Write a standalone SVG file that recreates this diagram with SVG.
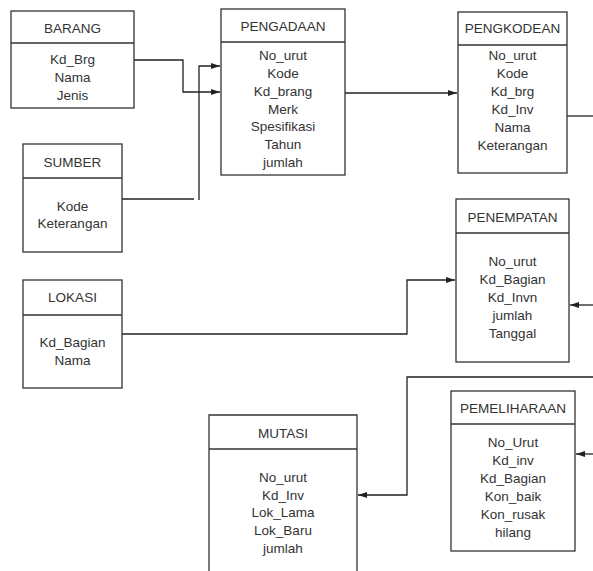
<svg xmlns="http://www.w3.org/2000/svg" width="593" height="571" viewBox="0 0 593 571">
  <style>
    .box { fill: #ffffff; stroke: #333333; stroke-width: 1.3; }
    .div { stroke: #333333; stroke-width: 1.3; fill: none; }
    .t { font-family: "Liberation Sans", Arial, sans-serif; font-size: 13.5px; fill: #333333; text-anchor: middle; }
    .conn { fill: none; stroke: #222222; stroke-width: 1.3; }
  </style>
  <defs>
    <marker id="arrow" markerUnits="userSpaceOnUse" markerWidth="10" markerHeight="8" refX="9" refY="4" orient="auto">
      <path d="M0,1 L9,4 L0,7 Z" fill="#222222"/>
    </marker>
  </defs>
  <rect width="593" height="571" fill="#ffffff"/>

  <g id="connectors">
    <path class="conn" d="M134,60 H183 V92 H220" marker-end="url(#arrow)"/>
    <path class="conn" d="M122,199 H194"/>
    <path class="conn" d="M199,200 V66 H220" marker-end="url(#arrow)"/>
    <path class="conn" d="M345,93 H457" marker-end="url(#arrow)"/>
    <path class="conn" d="M567,116 H593"/>
    <path class="conn" d="M122,334 H407 V280 H455" marker-end="url(#arrow)"/>
    <path class="conn" d="M593,305 H570" marker-end="url(#arrow)"/>
    <path class="conn" d="M593,377 H407 V495 H358" marker-end="url(#arrow)"/>
    <path class="conn" d="M593,454 H576" marker-end="url(#arrow)"/>
  </g>

  <g id="barang">
    <rect class="box" x="11" y="11" width="123" height="97"/>
    <line class="div" x1="11" y1="43" x2="134" y2="43"/>
    <text class="t" x="72.5" y="33">BARANG</text>
    <text class="t" x="72.5" y="64">Kd_Brg</text>
    <text class="t" x="72.5" y="82">Nama</text>
    <text class="t" x="72.5" y="100">Jenis</text>
  </g>

  <g id="pengadaan">
    <rect class="box" x="221" y="9" width="124" height="166"/>
    <line class="div" x1="221" y1="42" x2="345" y2="42"/>
    <text class="t" x="283" y="31">PENGADAAN</text>
    <text class="t" x="283" y="60">No_urut</text>
    <text class="t" x="283" y="78">Kode</text>
    <text class="t" x="283" y="96">Kd_brang</text>
    <text class="t" x="283" y="113.5">Merk</text>
    <text class="t" x="283" y="131">Spesifikasi</text>
    <text class="t" x="283" y="149">Tahun</text>
    <text class="t" x="283" y="167">jumlah</text>
  </g>

  <g id="pengkodean">
    <rect class="box" x="458" y="12" width="109" height="161"/>
    <line class="div" x1="458" y1="45" x2="567" y2="45"/>
    <text class="t" x="512.5" y="33">PENGKODEAN</text>
    <text class="t" x="512.5" y="60">No_urut</text>
    <text class="t" x="512.5" y="78">Kode</text>
    <text class="t" x="512.5" y="96">Kd_brg</text>
    <text class="t" x="512.5" y="114">Kd_Inv</text>
    <text class="t" x="512.5" y="132">Nama</text>
    <text class="t" x="512.5" y="150">Keterangan</text>
  </g>

  <g id="sumber">
    <rect class="box" x="23" y="144" width="99" height="108"/>
    <line class="div" x1="23" y1="178" x2="122" y2="178"/>
    <text class="t" x="72.5" y="167">SUMBER</text>
    <text class="t" x="72.5" y="211">Kode</text>
    <text class="t" x="72.5" y="228">Keterangan</text>
  </g>

  <g id="lokasi">
    <rect class="box" x="23" y="280" width="99" height="108"/>
    <line class="div" x1="23" y1="315" x2="122" y2="315"/>
    <text class="t" x="72.5" y="302">LOKASI</text>
    <text class="t" x="72.5" y="347">Kd_Bagian</text>
    <text class="t" x="72.5" y="365">Nama</text>
  </g>

  <g id="penempatan">
    <rect class="box" x="456" y="199" width="113" height="163"/>
    <line class="div" x1="456" y1="233" x2="569" y2="233"/>
    <text class="t" x="512.5" y="222">PENEMPATAN</text>
    <text class="t" x="512.5" y="266">No_urut</text>
    <text class="t" x="512.5" y="284">Kd_Bagian</text>
    <text class="t" x="512.5" y="302">Kd_Invn</text>
    <text class="t" x="512.5" y="320">jumlah</text>
    <text class="t" x="512.5" y="338">Tanggal</text>
  </g>

  <g id="mutasi">
    <path class="box" d="M209,572 V415 H357 V572"/>
    <line class="div" x1="209" y1="449" x2="357" y2="449"/>
    <text class="t" x="283" y="438">MUTASI</text>
    <text class="t" x="283" y="482">No_urut</text>
    <text class="t" x="283" y="499.5">Kd_Inv</text>
    <text class="t" x="283" y="517">Lok_Lama</text>
    <text class="t" x="283" y="535">Lok_Baru</text>
    <text class="t" x="283" y="553">jumlah</text>
  </g>

  <g id="pemeliharaan">
    <rect class="box" x="451" y="391" width="124" height="160"/>
    <line class="div" x1="451" y1="424" x2="575" y2="424"/>
    <text class="t" x="513" y="413">PEMELIHARAAN</text>
    <text class="t" x="513" y="447">No_Urut</text>
    <text class="t" x="513" y="465">Kd_inv</text>
    <text class="t" x="513" y="483">Kd_Bagian</text>
    <text class="t" x="513" y="501">Kon_baik</text>
    <text class="t" x="513" y="519">Kon_rusak</text>
    <text class="t" x="513" y="537">hilang</text>
  </g>
</svg>
